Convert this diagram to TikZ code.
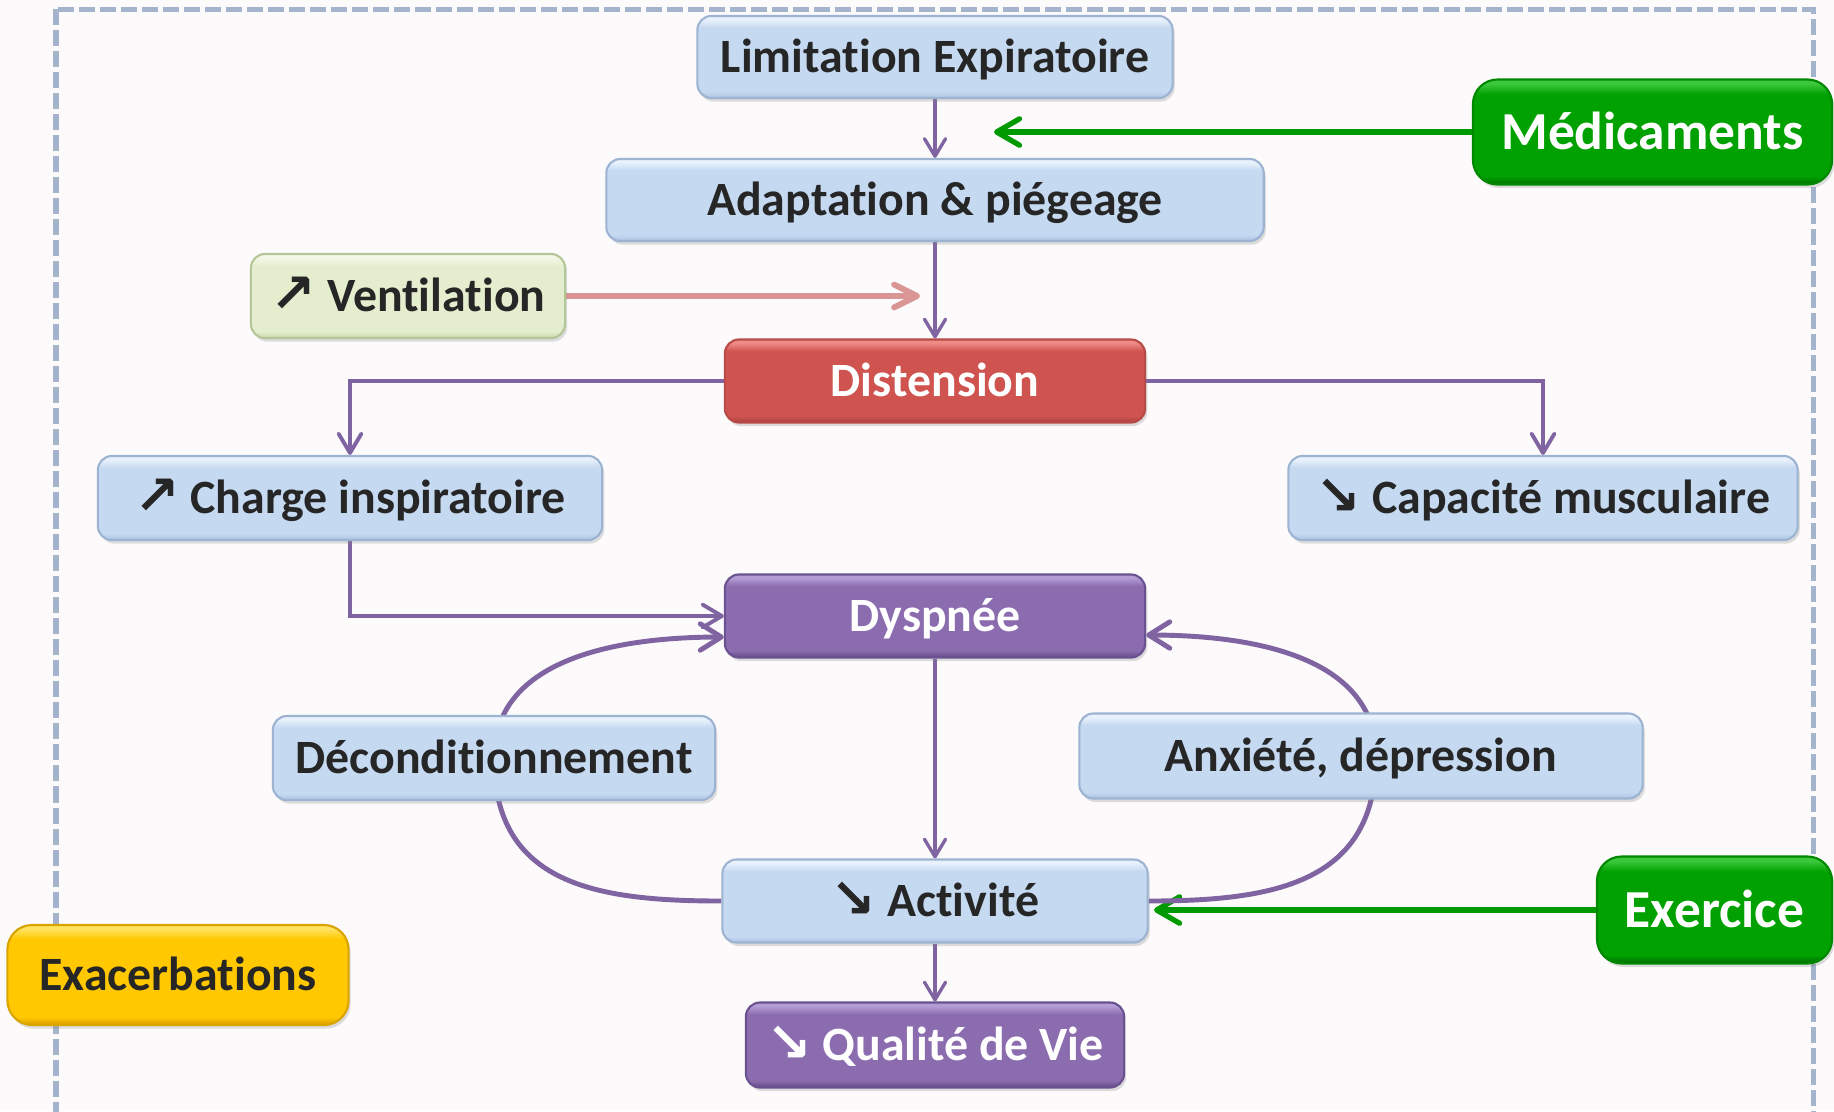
\documentclass[tikz,border=0pt]{standalone}
\usepackage{fontspec}
\setmainfont[Ligatures=NoCommon]{Carlito}
\newfontfamily\arrowfont{DejaVu Sans}
\usetikzlibrary{arrows.meta,shadows,backgrounds}

\definecolor{bgc}{HTML}{FCFAFB}
\definecolor{dashc}{HTML}{A3B4CC}
\definecolor{txt}{HTML}{262626}
\definecolor{linepurple}{HTML}{8064A2}
\definecolor{pinkline}{HTML}{DA9694}
\definecolor{greenline}{HTML}{009A00}

\definecolor{bluefill}{HTML}{C5D9F1}
\definecolor{bluetop}{HTML}{E9F2FC}
\definecolor{bluebot}{HTML}{ADC3E0}
\definecolor{blueedge}{HTML}{9CB3D2}

\definecolor{ventfill}{HTML}{E4EECF}
\definecolor{venttop}{HTML}{F3F8E8}
\definecolor{ventbot}{HTML}{CCDAAF}
\definecolor{ventedge}{HTML}{B4C695}

\definecolor{redfill}{HTML}{CF5450}
\definecolor{redtop}{HTML}{EE8B87}
\definecolor{redbot}{HTML}{A8403D}
\definecolor{rededge}{HTML}{B84A47}

\definecolor{purfill}{HTML}{8B6CAF}
\definecolor{purtop}{HTML}{B49DD4}
\definecolor{purbot}{HTML}{5F4882}
\definecolor{puredge}{HTML}{6A5190}

\definecolor{grfill}{HTML}{00A100}
\definecolor{grtop}{HTML}{3CC83C}
\definecolor{grbot}{HTML}{006E00}
\definecolor{gredge}{HTML}{008800}

\definecolor{yefill}{HTML}{FFC800}
\definecolor{yetop}{HTML}{FFE260}
\definecolor{yebot}{HTML}{D79E00}
\definecolor{yeedge}{HTML}{D9A400}

\pgfdeclareverticalshading{shblue}{100bp}{color(0bp)=(bluebot); color(25bp)=(bluebot); color(29bp)=(bluefill); color(68bp)=(bluefill); color(73bp)=(bluetop); color(100bp)=(bluetop)}
\pgfdeclareverticalshading{shvent}{100bp}{color(0bp)=(ventbot); color(25bp)=(ventbot); color(29bp)=(ventfill); color(68bp)=(ventfill); color(73bp)=(venttop); color(100bp)=(venttop)}
\pgfdeclareverticalshading{shred}{100bp}{color(0bp)=(redbot); color(25bp)=(redbot); color(29bp)=(redfill); color(68bp)=(redfill); color(73bp)=(redtop); color(100bp)=(redtop)}
\pgfdeclareverticalshading{shpur}{100bp}{color(0bp)=(purbot); color(25bp)=(purbot); color(29bp)=(purfill); color(68bp)=(purfill); color(73bp)=(purtop); color(100bp)=(purtop)}
\pgfdeclareverticalshading{shgr}{100bp}{color(0bp)=(grbot); color(25bp)=(grbot); color(29bp)=(grfill); color(68bp)=(grfill); color(73bp)=(grtop); color(100bp)=(grtop)}
\pgfdeclareverticalshading{shye}{100bp}{color(0bp)=(yebot); color(25bp)=(yebot); color(29bp)=(yefill); color(68bp)=(yefill); color(73bp)=(yetop); color(100bp)=(yetop)}

\newcommand{\upar}{{\arrowfont\fontsize{15.5}{16}\selectfont\raisebox{-0.3pt}{↗}}}
\newcommand{\dnar}{{\arrowfont\fontsize{15.5}{16}\selectfont\raisebox{-0.3pt}{↘}}}

\tikzset{
  basebox/.style={rounded corners=4pt, line width=0.6pt, inner sep=0pt, align=center,
    font=\bfseries\fontsize{13.6}{16}\selectfont, text height=8.8pt, text depth=0pt,
    drop shadow={opacity=0.25, shadow xshift=0.6pt, shadow yshift=-1pt}},
  bluebox/.style={basebox, shading=shblue, draw=blueedge, text=txt},
  ventbox/.style={basebox, shading=shvent, draw=ventedge, text=txt},
  redbox/.style={basebox, shading=shred, draw=rededge, text=white},
  purbox/.style={basebox, shading=shpur, draw=puredge, text=white},
  grbox/.style={basebox, rounded corners=7pt, shading=shgr, draw=gredge, text=white,
    font=\bfseries\fontsize{15.2}{18}\selectfont, text height=9.8pt},
  yebox/.style={basebox, rounded corners=7pt, shading=shye, draw=yeedge, text=txt},
  thinarrow/.style={draw=linepurple, line width=0.95pt, -{Straight Barb[round,length=5pt,width=6pt]}},
  elbow/.style={draw=linepurple, line width=1.1pt, -{Straight Barb[round,length=5.5pt,width=6.5pt]}},
  curvearrow/.style={draw=linepurple, line width=1.4pt, -{Straight Barb[round,length=6pt,width=7.5pt]}},
  greenarrow/.style={draw=greenline, line width=1.5pt, -{Straight Barb[round,length=6.5pt,width=7.5pt]}},
  pinkarrow/.style={draw=pinkline, line width=1.7pt, -{Straight Barb[round,length=6.5pt,width=6.5pt]}},
}

\begin{document}
\begin{tikzpicture}[x=0.01cm,y=-0.01cm]
\useasboundingbox (0,0) rectangle (1834,1111);

% nodes
\node[bluebox, minimum width=4.75cm, minimum height=0.82cm] (lim) at (935,57) {Limitation Expiratoire};
\node[bluebox, minimum width=6.57cm, minimum height=0.82cm] (adapt) at (935,200) {Adaptation \& piégeage};
\node[grbox, minimum width=3.59cm, minimum height=1.05cm] (med) at (1652.5,132) {Médicaments};
\node[ventbox, minimum width=3.14cm, minimum height=0.84cm] (vent) at (408,296) {\upar\ Ventilation};
\node[redbox, minimum width=4.20cm, minimum height=0.83cm] (dist) at (935,381) {Distension};
\node[bluebox, minimum width=5.04cm, minimum height=0.84cm] (charge) at (350,498) {\upar\ Charge inspiratoire};
\node[bluebox, minimum width=5.09cm, minimum height=0.84cm] (capa) at (1543,498) {\dnar\ Capacité musculaire};
\node[purbox, minimum width=4.20cm, minimum height=0.83cm] (dysp) at (935,616) {Dyspnée};
\node[bluebox, minimum width=4.42cm, minimum height=0.84cm] (decond) at (494,758) {Déconditionnement};
\node[bluebox, minimum width=5.63cm, minimum height=0.85cm] (anx) at (1361,756) {Anxiété, dépression};
\node[bluebox, minimum width=4.25cm, minimum height=0.83cm] (act) at (935,901) {\dnar\ Activité};
\node[yebox, minimum width=3.41cm, minimum height=1.00cm] (exa) at (178,975) {Exacerbations};
\node[grbox, minimum width=2.35cm, minimum height=1.07cm] (exer) at (1714.5,910) {Exercice};
\node[purbox, minimum width=3.78cm, minimum height=0.85cm] (qual) at (935,1045) {\dnar\ Qualité de Vie};

\coordinate (medtip) at (994,132);
\coordinate (venttip) at (920,296);
\coordinate (extip) at (1154,910);

\begin{scope}[on background layer]
  \fill[bgc] (0,0) rectangle (1834,1111);
  \draw[dashc, line width=0.05cm, dash pattern=on 0.16cm off 0.05cm] (56,9) rectangle (1813,1150);

  \draw[thinarrow] (lim.south) -- (adapt.north);
  \draw[thinarrow] (adapt.south) -- (dist.north);
  \draw[thinarrow] (dysp.south) -- (act.north);
  \draw[thinarrow] (act.south) -- (qual.north);

  \draw[greenarrow] (med.west) -- (medtip);
  \draw[pinkarrow] (vent.east) -- (venttip);
  \draw[greenarrow] (exer.west) -- (extip);

  \draw[elbow] (dist.west) -| (charge.north);
  \draw[elbow] (dist.east) -| (capa.north);
  \draw[elbow] (charge.south) |- (dysp.west);

  \draw[curvearrow] (act.west) to[out=180,in=-90,looseness=1.2] (decond.center)
        to[out=90,in=180] ([yshift=-0.21cm]dysp.west);
  \draw[curvearrow] (act.east) to[out=0,in=-90,looseness=1.2] ([xshift=0.15cm]anx.center)
        to[out=90,in=0] ([yshift=-0.19cm]dysp.east);
\end{scope}
\end{tikzpicture}
\end{document}
